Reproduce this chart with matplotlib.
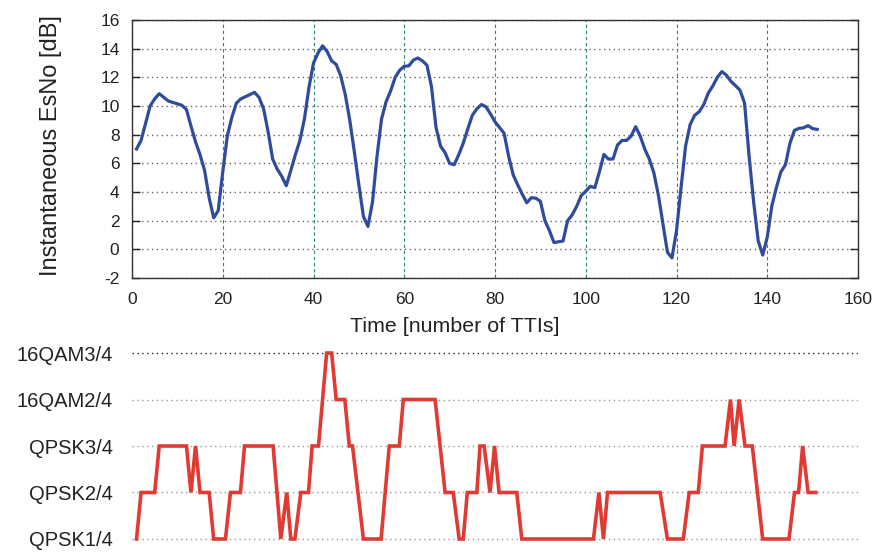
import matplotlib
matplotlib.use("Agg")
import matplotlib.pyplot as plt

plt.rcParams['font.family'] = ['Liberation Sans', 'DejaVu Sans']
plt.rcParams['axes.unicode_minus'] = False

# ---- data ----
esno_tti = list(range(1, 152))
esno_db = [
    7.0, 7.6, 8.8, 10.0, 10.5, 10.86, 10.6, 10.35, 10.25, 10.15,
    10.05, 9.75, 8.6, 7.5, 6.6, 5.5, 3.6, 2.2, 2.7, 5.4,
    7.9, 9.2, 10.2, 10.5, 10.65, 10.8, 10.95, 10.6, 9.8, 8.2,
    6.3, 5.6, 5.1, 4.44, 5.5, 6.6, 7.6, 9.1, 11.3, 13.0,
    13.7, 14.2, 13.8, 13.15, 12.9, 12.1, 10.8, 9.0, 6.8, 4.5,
    2.3, 1.6, 3.3, 6.5, 9.1, 10.3, 11.05, 12.0, 12.5, 12.77,
    12.8, 13.2, 13.35, 13.15, 12.85, 11.35, 8.5, 7.2, 6.74, 6.0,
    5.9, 6.6, 7.4, 8.4, 9.35, 9.8, 10.1, 9.95, 9.45, 8.9,
    8.5, 8.1, 6.5, 5.2, 4.5, 3.85, 3.25, 3.6, 3.57, 3.35,
    2.0, 1.3, 0.47, 0.53, 0.58, 2.0, 2.4, 3.0, 3.75, 4.05,
    4.4, 4.3, 5.4, 6.62, 6.3, 6.3, 7.28, 7.6, 7.6, 7.9,
    8.56, 7.9, 7.0, 6.3, 5.35, 3.8, 1.8, -0.2, -0.6, 1.3,
    4.3, 7.2, 8.7, 9.35, 9.6, 10.1, 10.9, 11.4, 12.0, 12.4,
    12.15, 11.72, 11.42, 11.1, 10.2, 6.5, 3.3, 0.6, -0.4, 0.85,
    3.0, 4.3, 5.4, 5.9, 7.4, 8.3, 8.44, 8.48, 8.63, 8.42,
    8.37,
]

mcs_labels = ['QPSK1/4', 'QPSK2/4', 'QPSK3/4', '16QAM2/4', '16QAM3/4']
mcs_tti = [1, 2, 5, 6, 12, 13, 14, 15, 17, 18, 20.6, 21.7, 23.9, 24.8, 31.1,
           32.8, 34.1, 35, 35.9, 37.2, 38.9, 39.7, 41.1, 42.9, 44, 45, 46.9,
           47.9, 48.6, 51, 54.9, 56.7, 58.9, 59.8, 66.8, 69, 70.8, 72.1, 73,
           73.9, 76, 76.7, 77.6, 78.9, 79.9, 80.9, 84.8, 85.9, 101.7, 102.9,
           103.9, 104.8, 116.4, 118, 121.5, 122.8, 124.8, 125.7, 130.7, 131.9,
           132.7, 133.8, 135.1, 136.7, 139, 144.8, 146, 146.9, 147.8, 149, 150.7]
mcs_level = [0, 1, 1, 2, 2, 1, 2, 1, 1, 0, 0, 1, 1, 2, 2,
             0, 1, 0, 0, 1, 1, 2, 2, 4, 4, 3, 3,
             2, 2, 0, 0, 2, 2, 3, 3, 1, 1, 0, 0,
             1, 1, 2, 2, 1, 2, 1, 1, 0, 0, 1,
             0, 1, 1, 0, 0, 1, 1, 2, 2, 3,
             2, 3, 2, 2, 0, 0, 1, 1, 2, 1, 1]

x_ticks = list(range(0, 161, 20))
y_ticks = list(range(-2, 17, 2))

W, H = 874, 557
fig = plt.figure(figsize=(W / 100, H / 100), dpi=100)

# ---- top chart ----
ax1 = fig.add_axes([132 / W, 1 - 278 / H, 726 / W, 258 / H])
ax1.plot(esno_tti, esno_db, color='#2f4b9c', lw=2.3, solid_joinstyle='round')
ax1.set_xlim(0, 160)
ax1.set_ylim(-2, 16)
ax1.set_xticks(x_ticks)
ax1.set_yticks(y_ticks)
ax1.set_yticklabels([str(v) for v in y_ticks])
ax1.xaxis.grid(True, linestyle=(0, (3, 2.5)), color='#2a8a6e', lw=0.8)
ax1.yaxis.grid(True, linestyle=(0, (1, 2.5)), color='#666666', lw=1.0)
ax1.set_axisbelow(True)
ax1.tick_params(axis='y', direction='in', length=5.5, width=1.0, left=True,
                right=True, labelsize=12.5, pad=9, colors='#222222')
ax1.tick_params(axis='x', direction='in', length=3, width=0.8, color='#2a8a6e',
                labelsize=12.5, pad=10, labelcolor='#222222')
for s in ax1.spines.values():
    s.set_color('#333333')
    s.set_linewidth(1.0)

fig.text(455 / W, 1 - 327 / H, 'Time [number of TTIs]', fontsize=15.4,
         ha='center', va='center', color='#222222')
fig.text(51 / W, 1 - 146 / H, 'Instantaneous EsNo [dB]', fontsize=17,
         rotation=90, ha='center', va='center', color='#222222')

# ---- bottom chart ----
ax2 = fig.add_axes([132 / W, 1 - 550.6 / H, 726 / W, 209.2 / H])
ax2.plot(mcs_tti, mcs_level, color='#e03a33', lw=2.6, solid_joinstyle='miter')
ax2.set_xlim(0, 160)
ax2.set_ylim(-0.25, 4.25)
for s in ax2.spines.values():
    s.set_visible(False)
ax2.set_xticks([])
ax2.set_yticks(range(len(mcs_labels)))
ax2.set_yticklabels(mcs_labels)
ax2.tick_params(axis='y', which='major', length=0, labelsize=14.5, pad=14,
                labelcolor='#222222')
ax2.set_yticks([1, 3], minor=True)
ax2.tick_params(axis='y', which='minor', direction='in', length=6, width=1.3,
                left=True, right=True, color='#111111')
for lvl in range(len(mcs_labels)):
    col = '#222222' if lvl == 4 else '#999999'
    ax2.axhline(lvl, color=col, lw=1.0, linestyle=(0, (1, 2.5)), zorder=0)

fig.savefig('out.png', dpi=100)
